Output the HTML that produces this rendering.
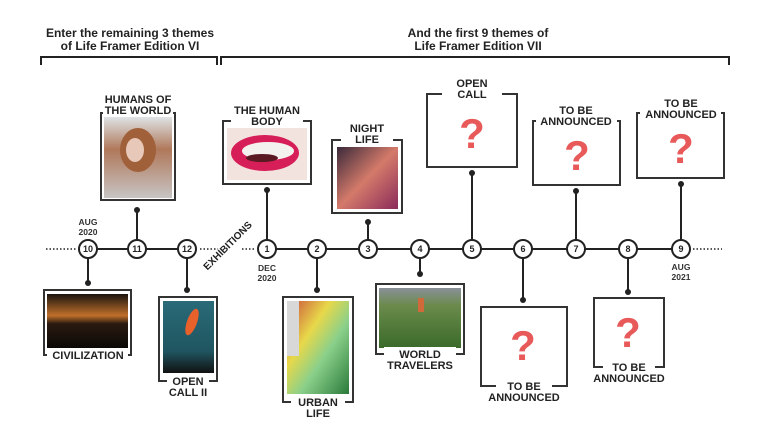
<!DOCTYPE html>
<html><head><meta charset="utf-8"><style>
html,body{margin:0;padding:0;background:#fff;}
svg{display:block;font-family:"Liberation Sans",sans-serif;}
.l{font-weight:bold;font-size:11px;fill:#222;text-anchor:middle;}
.t{font-weight:bold;font-size:12px;fill:#222;text-anchor:middle;}
.n{font-size:9px;font-weight:bold;fill:#222;text-anchor:middle;}
.d{font-size:8.5px;font-weight:bold;fill:#333;text-anchor:middle;}
.q{font-weight:bold;font-size:42px;fill:#e85a5a;text-anchor:middle;}
</style></head><body>
<svg width="768" height="444" viewBox="0 0 768 444">
<defs>
<linearGradient id="gGirl" x1="0" y1="0" x2="0" y2="1"><stop offset="0" stop-color="#dfe3e6"/><stop offset="0.4" stop-color="#b0785a"/><stop offset="1" stop-color="#c7c4c4"/></linearGradient>
<linearGradient id="gNight" x1="0" y1="0" x2="1" y2="1"><stop offset="0" stop-color="#3a2a3a"/><stop offset="0.5" stop-color="#d47a6a"/><stop offset="1" stop-color="#8a2a5a"/></linearGradient>
<linearGradient id="gCiv" x1="0" y1="0" x2="0" y2="1"><stop offset="0" stop-color="#1a1410"/><stop offset="0.4" stop-color="#c0702a"/><stop offset="0.55" stop-color="#2a1a10"/><stop offset="1" stop-color="#0a0806"/></linearGradient>
<linearGradient id="gOC2" x1="0" y1="0" x2="0" y2="1"><stop offset="0" stop-color="#2a6a78"/><stop offset="0.7" stop-color="#1f5560"/><stop offset="1" stop-color="#111"/></linearGradient>
<linearGradient id="gUrban" x1="0" y1="0" x2="1" y2="1"><stop offset="0" stop-color="#c84a3a"/><stop offset="0.35" stop-color="#e8d84a"/><stop offset="0.6" stop-color="#8ad08a"/><stop offset="1" stop-color="#2a7a3a"/></linearGradient>
<linearGradient id="gWorld" x1="0" y1="0" x2="0" y2="1"><stop offset="0" stop-color="#8a9098"/><stop offset="0.3" stop-color="#6a8a4a"/><stop offset="1" stop-color="#3a6a2a"/></linearGradient>
</defs>

<text class="t" x="130" y="37">Enter the remaining 3 themes</text>
<text class="t" x="130" y="50">of Life Framer Edition VI</text>
<text class="t" x="478" y="37">And the first 9 themes of</text>
<text class="t" x="478" y="50">Life Framer Edition VII</text>
<path d="M41 65V57H217V65M221 65V57H729V65" fill="none" stroke="#222" stroke-width="2"/>

<g stroke="#222" stroke-width="2" fill="none">
<line x1="88" y1="249" x2="187" y2="249"/>
<line x1="267" y1="249" x2="681" y2="249"/>
</g>
<g stroke="#222" stroke-width="1.5" stroke-dasharray="1.5 2" fill="none">
<line x1="46" y1="249" x2="77" y2="249"/>
<line x1="200" y1="249" x2="218" y2="249"/>
<line x1="242" y1="249" x2="256" y2="249"/>
<line x1="693" y1="249" x2="722" y2="249"/>
</g>

<g stroke="#222" stroke-width="2">
<line x1="137" y1="210" x2="137" y2="249"/>
<line x1="267" y1="190" x2="267" y2="249"/>
<line x1="368" y1="222" x2="368" y2="249"/>
<line x1="472" y1="173" x2="472" y2="249"/>
<line x1="576" y1="191" x2="576" y2="249"/>
<line x1="681" y1="184" x2="681" y2="249"/>
<line x1="88" y1="249" x2="88" y2="283"/>
<line x1="187" y1="249" x2="187" y2="290"/>
<line x1="317" y1="249" x2="317" y2="290"/>
<line x1="420" y1="249" x2="420" y2="274"/>
<line x1="523" y1="249" x2="523" y2="300"/>
<line x1="628" y1="249" x2="628" y2="292"/>
</g>
<g fill="#222">
<circle cx="137" cy="210" r="3"/><circle cx="267" cy="190" r="3"/><circle cx="368" cy="222" r="3"/>
<circle cx="472" cy="173" r="3"/><circle cx="576" cy="191" r="3"/><circle cx="681" cy="184" r="3"/>
<circle cx="88" cy="283" r="3"/><circle cx="187" cy="290" r="3"/><circle cx="317" cy="290" r="3"/>
<circle cx="420" cy="274" r="3"/><circle cx="523" cy="300" r="3"/><circle cx="628" cy="292" r="3"/>
</g>

<g stroke="#222" stroke-width="2" fill="#fff">
<circle cx="88" cy="249" r="9"/><circle cx="137" cy="249" r="9"/><circle cx="187" cy="249" r="9"/>
<circle cx="267" cy="249" r="9"/><circle cx="317" cy="249" r="9"/><circle cx="368" cy="249" r="9"/>
<circle cx="420" cy="249" r="9"/><circle cx="472" cy="249" r="9"/><circle cx="523" cy="249" r="9"/>
<circle cx="576" cy="249" r="9"/><circle cx="628" cy="249" r="9"/><circle cx="681" cy="249" r="9"/>
</g>
<text class="n" x="88" y="252">10</text><text class="n" x="137" y="252">11</text><text class="n" x="187" y="252">12</text>
<text class="n" x="267" y="252">1</text><text class="n" x="317" y="252">2</text><text class="n" x="368" y="252">3</text>
<text class="n" x="420" y="252">4</text><text class="n" x="472" y="252">5</text><text class="n" x="523" y="252">6</text>
<text class="n" x="576" y="252">7</text><text class="n" x="628" y="252">8</text><text class="n" x="681" y="252">9</text>
<text class="d" x="88" y="225">AUG</text><text class="d" x="88" y="235">2020</text>
<text class="d" x="267" y="271">DEC</text><text class="d" x="267" y="281">2020</text>
<text class="d" x="681" y="270">AUG</text><text class="d" x="681" y="280">2021</text>
<text class="l" transform="translate(230,248) rotate(-45)" style="font-size:10px">EXHIBITIONS</text>

<g stroke="#333" stroke-width="2" fill="none">
<rect x="101" y="113" width="74" height="87"/>
<rect x="223" y="121" width="88" height="63"/>
<rect x="332" y="140" width="70" height="73"/>
<rect x="427" y="94" width="90" height="73"/>
<rect x="533" y="121" width="87" height="64"/>
<rect x="637" y="113" width="87" height="65"/>
<rect x="44" y="290" width="87" height="65"/>
<rect x="159" y="297" width="58" height="84"/>
<rect x="283" y="297" width="70" height="105"/>
<rect x="376" y="284" width="88" height="70"/>
<rect x="481" y="307" width="86" height="79"/>
<rect x="594" y="298" width="70" height="69"/>
</g>

<rect x="104" y="117" width="68" height="81" fill="url(#gGirl)"/>
<ellipse cx="138" cy="150" rx="18" ry="22" fill="#a0603a"/>
<ellipse cx="135" cy="150" rx="9" ry="12" fill="#e8c8b8"/>
<rect x="227" y="128" width="80" height="52" fill="#f3e3de"/>
<ellipse cx="265" cy="153" rx="34" ry="18" fill="#d61f58"/>
<ellipse cx="268" cy="151" rx="26" ry="9" fill="#f4f2ee"/>
<ellipse cx="262" cy="158" rx="16" ry="4" fill="#5a1a22"/>
<rect x="337" y="147" width="61" height="62" fill="url(#gNight)"/>
<rect x="47" y="294" width="81" height="54" fill="url(#gCiv)"/>
<rect x="163" y="301" width="51" height="72" fill="url(#gOC2)"/>
<ellipse cx="192" cy="322" rx="5" ry="14" fill="#e8602a" transform="rotate(20 192 322)"/>
<rect x="287" y="301" width="62" height="93" fill="url(#gUrban)"/>
<rect x="287" y="301" width="12" height="55" fill="#d8d8d8"/>
<rect x="379" y="288" width="82" height="60" fill="url(#gWorld)"/>
<rect x="418" y="298" width="6" height="14" fill="#d06a3a"/>

<g fill="#fff">
<rect x="103" y="104" width="70" height="12"/>
<rect x="231" y="114" width="72" height="12"/>
<rect x="341" y="133" width="52" height="12"/>
<rect x="442" y="88" width="60" height="12"/>
<rect x="536" y="115" width="81" height="12"/>
<rect x="640" y="107" width="81" height="12"/>
<rect x="47" y="348" width="81" height="12"/>
<rect x="167" y="374" width="42" height="12"/>
<rect x="291" y="395" width="54" height="12"/>
<rect x="384" y="347" width="72" height="12"/>
<rect x="496" y="379" width="56" height="12"/>
<rect x="603" y="360" width="52" height="12"/>
</g>
<text class="l" x="138" y="103">HUMANS OF</text><text class="l" x="138" y="114">THE WORLD</text>
<text class="l" x="267" y="114">THE HUMAN</text><text class="l" x="267" y="125">BODY</text>
<text class="l" x="367" y="132">NIGHT</text><text class="l" x="367" y="143">LIFE</text>
<text class="l" x="472" y="87">OPEN</text><text class="l" x="472" y="98">CALL</text>
<text class="l" x="576" y="114">TO BE</text><text class="l" x="576" y="125">ANNOUNCED</text>
<text class="l" x="681" y="107">TO BE</text><text class="l" x="681" y="118">ANNOUNCED</text>
<text class="l" x="88" y="359">CIVILIZATION</text>
<text class="l" x="188" y="385">OPEN</text><text class="l" x="188" y="396">CALL II</text>
<text class="l" x="318" y="406">URBAN</text><text class="l" x="318" y="417">LIFE</text>
<text class="l" x="420" y="358">WORLD</text><text class="l" x="420" y="369">TRAVELERS</text>
<text class="l" x="524" y="390">TO BE</text><text class="l" x="524" y="401">ANNOUNCED</text>
<text class="l" x="629" y="371">TO BE</text><text class="l" x="629" y="382">ANNOUNCED</text>

<text class="q" x="472" y="148">?</text>
<text class="q" x="577" y="170">?</text>
<text class="q" x="681" y="163">?</text>
<text class="q" x="523" y="360">?</text>
<text class="q" x="628" y="347">?</text>
</svg>
</body></html>
